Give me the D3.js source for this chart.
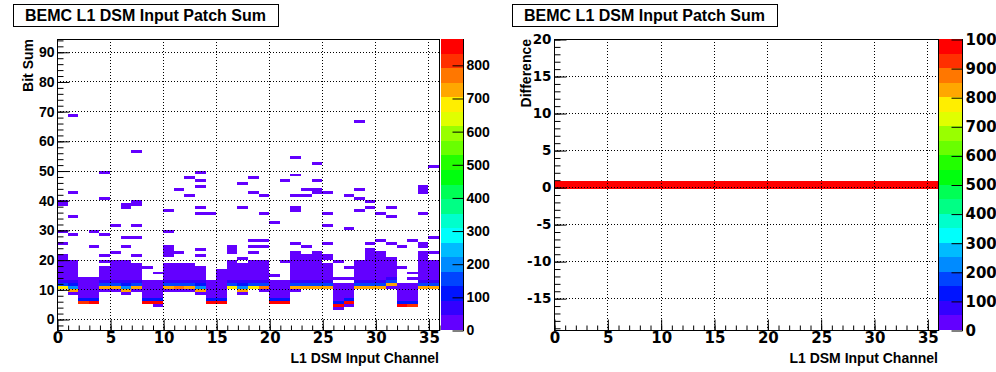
<!DOCTYPE html>
<html>
<head>
<meta charset="utf-8">
<script src="https://cdn.jsdelivr.net/npm/d3@7"></script>
<style>
  body { margin: 0; background: #fff; }
</style>
</head>
<body>
<div id="chart"></div>
<script>
// ---- data ----
const nChannels = 36;
const channelTicks = [0, 5, 10, 15, 20, 25, 30, 35];
const bitSumTicks = [0, 10, 20, 30, 40, 50, 60, 70, 80, 90];
const diffTicks = [-15, -10, -5, 0, 5, 10, 15, 20];
const zTicksLeft = [0, 100, 200, 300, 400, 500, 600, 700, 800];
const zTicksRight = [0, 100, 200, 300, 400, 500, 600, 700, 800, 900, 1000];
const zMaxLeft = 878;
const zMaxRight = 1000;

// low-count (purple) body of every channel: lowest and highest bit sum bin
const bodyLow  = [13,13, 7, 7,13,13,13,13, 7, 7,13,13,13,13, 7, 7,13,13,13,13, 7, 7,13,13,13,13, 6, 7,13,13,13,14, 6, 6,13,13];
const bodyHigh = [21,19,13,13,17,19,19,18,12,12,18,18,18,17,12,16,19,18,19,19,12,12,22,21,22,18,11,11,19,23,22,19,11,11,21,19];
const bodyCount = 8;

// high-count bins: [channel, bit sum, entries]
const peakCells = [
  [0,12,60],[0,11,170],[0,10,690],
  [1,12,50],[1,11,100],[1,10,190],[1,9,725],[1,8,15],
  [2,6,110],[2,5,815],
  [3,6,110],[3,5,870],
  [4,12,60],[4,11,160],[4,10,725],[4,9,20],
  [5,12,60],[5,11,160],[5,10,725],[5,9,20],
  [6,12,50],[6,11,100],[6,10,190],[6,9,725],[6,8,15],
  [7,12,60],[7,11,160],[7,10,725],[7,9,20],
  [8,6,110],[8,5,860],
  [9,6,110],[9,5,860],[9,4,15],
  [10,12,60],[10,11,160],[10,10,725],[10,9,20],
  [11,12,60],[11,11,160],[11,10,770],[11,9,20],
  [12,12,60],[12,11,160],[12,10,725],[12,9,20],
  [13,12,50],[13,11,100],[13,10,190],[13,9,725],[13,8,15],
  [14,6,110],[14,5,860],
  [15,6,110],[15,5,860],
  [16,12,60],[16,11,170],[16,10,690],
  [17,12,50],[17,11,100],[17,10,190],[17,9,725],[17,8,15],
  [18,12,60],[18,11,170],[18,10,690],
  [19,12,60],[19,11,160],[19,10,770],[19,9,20],
  [20,6,110],[20,5,860],
  [21,6,110],[21,5,860],
  [22,12,60],[22,11,160],[22,10,725],[22,9,20],
  [23,12,60],[23,11,160],[23,10,725],
  [24,12,60],[24,11,160],[24,10,725],
  [25,12,60],[25,11,160],[25,10,725],
  [26,5,110],[26,4,860],[26,3,20],
  [27,6,110],[27,5,860],[27,4,20],
  [28,12,60],[28,11,160],[28,10,725],
  [29,12,60],[29,11,160],[29,10,725],
  [30,12,60],[30,11,160],[30,10,725],
  [31,13,60],[31,12,160],[31,11,725],[31,10,20],
  [32,5,110],[32,4,870],
  [33,5,110],[33,4,815],
  [34,12,60],[34,11,160],[34,10,725],
  [35,12,60],[35,11,160],[35,10,725]
];

// isolated single entries: [channel, bit sum]
const strayCells = [
  [0,25],[0,29],[0,38],[0,39],
  [1,28],[1,34],[1,42],[1,68],
  [3,24],[3,29],
  [4,19],[4,21],[4,28],[4,40],[4,49],
  [5,22],[5,31],
  [6,24],[6,27],[6,37],[6,38],
  [7,21],[7,27],[7,31],[7,38],[7,39],[7,56],
  [8,17],[9,15],
  [10,21],[10,22],[10,23],[10,24],[10,29],[10,36],
  [11,22],[11,43],
  [12,41],[12,47],
  [13,21],[13,23],[13,35],[13,37],[13,44],[13,46],[13,49],
  [14,35],
  [16,22],[16,23],[16,24],
  [17,20],[17,37],[17,45],
  [18,22],[18,24],[18,26],[18,42],[18,47],
  [19,24],[19,26],[19,35],[19,41],
  [20,14],[20,32],
  [21,19],[21,46],
  [22,25],[22,36],[22,37],[22,41],[22,48],[22,54],
  [23,24],[23,41],[23,43],
  [24,42],[24,43],[24,46],[24,52],
  [25,20],[25,21],[25,25],[25,31],[25,35],[25,42],
  [26,13],[26,19],
  [27,13],[27,17],[27,30],[27,41],
  [28,36],[28,40],[28,43],[28,66],
  [29,25],[29,37],[29,39],
  [30,26],[30,35],
  [31,20],[31,25],[31,34],[31,37],
  [32,17],[32,24],
  [33,13],[33,15],[33,26],
  [34,20],[34,21],[34,22],[34,24],[34,25],[34,35],[34,42],[34,43],[34,44],
  [35,22],[35,27],[35,51]
];
const strayCount = 3;

// right panel: every channel sits in the zero-difference bin
const diffBinEdges = [-0.2, 0.8];
const diffCounts = [1000,1000,1000,1000,1000,1000,1000,1000,1000,1000,1000,1000,
                    1000,1000,1000,1000,1000,1000,1000,1000,1000,1000,1000,1000,
                    1000,1000,1000,1000,1000,1000,1000,1000,1000,1000,1000,1000];

// ---- build cell tables ----
const leftCells = [];
const peakKey = new Set(peakCells.map(d => d[0] + ":" + d[1]));
bodyLow.forEach(function(lo, ch) {
  for (let b = lo; b <= bodyHigh[ch]; b++) {
    if (!peakKey.has(ch + ":" + b)) leftCells.push({ch: ch, y0: b, y1: b + 1, count: bodyCount});
  }
});
peakCells.forEach(d => leftCells.push({ch: d[0], y0: d[1], y1: d[1] + 1, count: d[2]}));
strayCells.forEach(d => leftCells.push({ch: d[0], y0: d[1], y1: d[1] + 1, count: strayCount}));

const rightCells = diffCounts.map((c, ch) => ({ch: ch, y0: diffBinEdges[0], y1: diffBinEdges[1], count: c}));

// ROOT "pretty" palette, 20 contour levels
function levelColor(k) {
  const idx = Math.floor((k + 0.99) * 50 / 20);
  return d3.hsl(280 - (idx + 1) * 5.6, 1, 0.5).formatHex();
}

const sansFont = '"Liberation Sans", Arial, Helvetica, sans-serif';
const wideFont = '"DejaVu Sans", Verdana, sans-serif';

const svg = d3.select("#chart").append("svg")
  .attr("width", 996)
  .attr("height", 372)
  .attr("font-family", sansFont)
  .attr("font-weight", "bold");

const plainNum = d => String(d);

function styleAxis(g, size, family) {
  g.attr("font-family", family || sansFont)
   .attr("font-size", size)
   .attr("font-weight", "bold");
  g.selectAll("line").attr("stroke", "#000");
  g.select(".domain").remove();
}

function drawPanel(p) {
  const x = d3.scaleLinear().domain([0, nChannels]).range([p.left, p.right]);
  const y = d3.scaleLinear().domain(p.yDomain).range([p.bottom, p.top]);
  const levelSize = p.zMax / 20;

  const clipId = "clip" + p.id;
  svg.append("clipPath").attr("id", clipId)
    .append("rect")
    .attr("x", p.left).attr("y", p.top)
    .attr("width", p.right - p.left).attr("height", p.bottom - p.top);

  svg.append("g").attr("clip-path", `url(#${clipId})`)
    .selectAll("rect")
    .data(p.cells)
    .enter().append("rect")
      .attr("x", d => x(d.ch))
      .attr("width", d => x(d.ch + 1) - x(d.ch))
      .attr("y", d => y(d.y1))
      .attr("height", d => y(d.y0) - y(d.y1))
      .attr("shape-rendering", "crispEdges")
      .style("fill", d => levelColor(Math.min(19, Math.floor(d.count / levelSize))));

  // dotted grid
  const grid = svg.append("g")
    .attr("stroke", "#000")
    .attr("stroke-width", 1)
    .attr("stroke-dasharray", "1,2")
    .attr("shape-rendering", "crispEdges");
  grid.selectAll("line.v")
    .data(channelTicks.filter(t => t > 0))
    .enter().append("line")
      .attr("x1", d => Math.round(x(d)) + 0.5).attr("x2", d => Math.round(x(d)) + 0.5)
      .attr("y1", p.top).attr("y2", p.bottom);
  grid.selectAll("line.h")
    .data(p.yTicks)
    .enter().append("line")
      .attr("x1", p.left).attr("x2", p.right)
      .attr("y1", d => Math.round(y(d)) + 0.5).attr("y2", d => Math.round(y(d)) + 0.5);

  // frame
  svg.append("rect")
    .attr("x", p.left + 0.5).attr("y", p.top + 0.5)
    .attr("width", p.right - p.left).attr("height", p.bottom - p.top)
    .attr("fill", "none").attr("stroke", "#000")
    .attr("shape-rendering", "crispEdges");

  // axes, ticks pointing into the frame
  const xMinor = svg.append("g").attr("transform", `translate(0.5,${p.bottom + 0.5})`)
    .call(d3.axisBottom(x).tickValues(d3.range(0, nChannels + 1)).tickSize(-5).tickFormat(""));
  styleAxis(xMinor, 14);
  const xMajor = svg.append("g").attr("transform", `translate(0.5,${p.bottom + 0.5})`)
    .call(d3.axisBottom(x).tickValues(channelTicks).tickSize(-11).tickPadding(2).tickFormat(plainNum));
  styleAxis(xMajor, 15, wideFont);

  const yMinor = svg.append("g").attr("transform", `translate(${p.left + 0.5},0.5)`)
    .call(d3.axisLeft(y).tickValues(p.yMinor).tickSize(-6).tickFormat(""));
  styleAxis(yMinor, 14);
  const yMajor = svg.append("g").attr("transform", `translate(${p.left + 0.5},0.5)`)
    .call(d3.axisLeft(y).tickValues(p.yTicks).tickSize(-12).tickPadding(3).tickFormat(plainNum));
  styleAxis(yMajor, p.yFont, p.yFamily);

  // axis titles
  svg.append("text")
    .attr("x", p.right)
    .attr("y", 363)
    .attr("text-anchor", "end")
    .attr("font-size", 14)
    .text("L1 DSM Input Channel");
  svg.append("text")
    .attr("transform", `translate(${p.left - p.yTitleGap},${p.top}) rotate(-90)`)
    .attr("text-anchor", "end")
    .attr("font-size", 14)
    .text(p.yTitle);

  // title box
  svg.append("rect")
    .attr("x", p.titleX + 0.5).attr("y", 4.5)
    .attr("width", 265).attr("height", 22)
    .attr("fill", "#fff").attr("stroke", "#000")
    .attr("shape-rendering", "crispEdges");
  svg.append("text")
    .attr("x", p.titleX + 132.5)
    .attr("y", 21)
    .attr("text-anchor", "middle")
    .attr("font-size", 16)
    .text("BEMC L1 DSM Input Patch Sum");

  // colour bar
  const z = d3.scaleLinear().domain([0, p.zMax]).range([p.bottom, p.top]);
  const bands = d3.range(20);
  svg.append("g").selectAll("rect")
    .data(bands)
    .enter().append("rect")
      .attr("x", p.barX).attr("width", p.barW)
      .attr("y", k => z((k + 1) * levelSize))
      .attr("height", k => z(k * levelSize) - z((k + 1) * levelSize))
      .attr("shape-rendering", "crispEdges")
      .style("fill", k => levelColor(k));
  svg.append("line")
    .attr("x1", p.barX + p.barW + 0.5).attr("x2", p.barX + p.barW + 0.5)
    .attr("y1", p.top).attr("y2", p.bottom + 1)
    .attr("stroke", "#000");
  const zAxis = svg.append("g").attr("transform", `translate(${p.barX + p.barW + 0.5},0.5)`)
    .call(d3.axisRight(z).tickValues(p.zTicks).tickSize(-11).tickPadding(3).tickFormat(plainNum));
  styleAxis(zAxis, p.zFont, p.zFamily);
}

drawPanel({
  id: "L", left: 57, right: 439, top: 39, bottom: 330,
  yDomain: [-3.7, 94.3], yTicks: bitSumTicks, yMinor: d3.range(-2, 95, 2),
  yFont: 14, yTitle: "Bit Sum", yTitleGap: 24.5,
  cells: leftCells, zMax: zMaxLeft, zTicks: zTicksLeft,
  zFont: 14, barX: 441, barW: 22, titleX: 13
});

drawPanel({
  id: "R", left: 554, right: 938, top: 39, bottom: 330,
  yDomain: [-19.3, 20], yTicks: diffTicks, yMinor: d3.range(-19, 21, 1),
  yFont: 13.5, yFamily: wideFont, yTitle: "Difference", yTitleGap: 23,
  cells: rightCells, zMax: zMaxRight, zTicks: zTicksRight,
  zFont: 15, zFamily: wideFont, barX: 939, barW: 23, titleX: 512
});
</script>
</body>
</html>
